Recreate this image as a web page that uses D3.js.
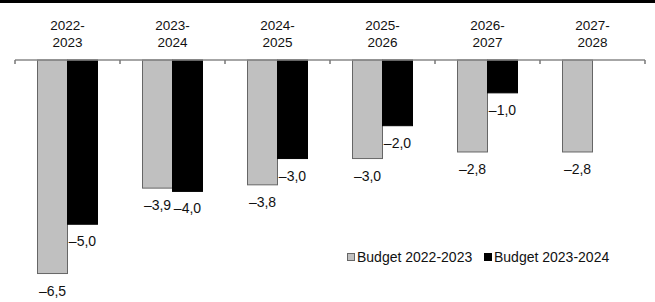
<!DOCTYPE html>
<html>
<head>
<meta charset="utf-8">
<script src="https://cdn.jsdelivr.net/npm/d3@7"></script>
<style>
  body { margin: 0; background: #fff; }
  svg { display: block; font-family: Arial, "Liberation Sans", sans-serif; }
</style>
</head>
<body>
<svg width="655" height="302"></svg>
<script>
const YEARS = ['2022-2023', '2023-2024', '2024-2025', '2025-2026', '2026-2027', '2027-2028']
const SERIES = ['Budget 2022-2023', 'Budget 2023-2024']
const BUDGET_2022 = [-6.5, -3.9, -3.8, -3.0, -2.8, -2.8]
const BUDGET_2023 = [-5.0, -4.0, -3.0, -2.0, -1.0, null]
const COLORS = ['#c0c0c0', '#000000']

const svg = d3.select('svg')
const width = 655
const margin = { left: 15, right: 10, top: 60 }

const x = d3.scaleBand()
  .domain(YEARS)
  .range([margin.left, width - margin.right])
  .paddingInner(0)
  .paddingOuter(0)

const inner = d3.scaleBand()
  .domain(SERIES)
  .range([x.bandwidth() * 0.2143, x.bandwidth() * 0.7857])

const y = d3.scaleLinear()
  .domain([0, -7])
  .range([margin.top, margin.top + 7 * 32.85])

const fmt = v => '\u2013' + Math.abs(v).toFixed(1).replace('.', ',')

// top border
svg.append('rect')
  .attr('x', 0).attr('y', 0)
  .attr('width', width).attr('height', 3)
  .attr('fill', '#000')

const rows = []
YEARS.forEach((yr, i) => {
  rows.push({ year: yr, series: SERIES[0], value: BUDGET_2022[i], idx: 0 })
  if (BUDGET_2023[i] !== null) rows.push({ year: yr, series: SERIES[1], value: BUDGET_2023[i], idx: 1 })
})

svg.append('g')
  .selectAll('rect')
  .data(rows)
  .enter().append('rect')
  .attr('x', d => x(d.year) + inner(d.series))
  .attr('y', y(0))
  .attr('width', inner.bandwidth())
  .attr('height', d => y(d.value) - y(0))
  .attr('fill', d => COLORS[d.idx])
  .attr('stroke', d => d.idx === 0 ? '#666' : '#000')
  .attr('stroke-width', 1)

// axis at zero with ticks at band edges
const axis = svg.append('g')
axis.append('line')
  .attr('x1', x.range()[0]).attr('x2', x.range()[1])
  .attr('y1', y(0)).attr('y2', y(0))
  .attr('stroke', '#888').attr('stroke-width', 1.5)

const edges = YEARS.map(d => x(d)).concat([x.range()[1]])
axis.selectAll('.tick')
  .data(edges)
  .enter().append('line')
  .attr('x1', d => d).attr('x2', d => d)
  .attr('y1', y(0)).attr('y2', y(0) + 4)
  .attr('stroke', '#777').attr('stroke-width', 1.5)

// category labels above
const cat = svg.append('g')
  .selectAll('text')
  .data(YEARS)
  .enter().append('text')
  .attr('x', d => x(d) + x.bandwidth() / 2)
  .attr('text-anchor', 'middle')
  .attr('font-size', 13.5)
  .attr('fill', '#111')
cat.append('tspan')
  .attr('x', d => x(d) + x.bandwidth() / 2)
  .attr('y', 30)
  .text(d => d.split('-')[0] + '-')
cat.append('tspan')
  .attr('x', d => x(d) + x.bandwidth() / 2)
  .attr('y', 47)
  .text(d => d.split('-')[1])

// value labels below bars
svg.append('g')
  .selectAll('text')
  .data(rows)
  .enter().append('text')
  .attr('x', d => x(d.year) + inner(d.series) + inner.bandwidth() / 2)
  .attr('y', d => y(d.value) + 22)
  .attr('text-anchor', 'middle')
  .attr('font-size', 14)
  .attr('fill', '#111')
  .text(d => fmt(d.value))

// legend
const legend = svg.append('g')
const legendX = [347, 484]
SERIES.forEach((s, i) => {
  legend.append('rect')
    .attr('x', legendX[i] + 0.5).attr('y', 253.5)
    .attr('width', 7).attr('height', 7)
    .attr('fill', COLORS[i])
    .attr('stroke', i === 0 ? '#666' : '#000')
  legend.append('text')
    .attr('x', legendX[i] + 10)
    .attr('y', 262)
    .attr('font-size', 14)
    .attr('fill', '#111')
    .text(s)
})
</script>
</body>
</html>
